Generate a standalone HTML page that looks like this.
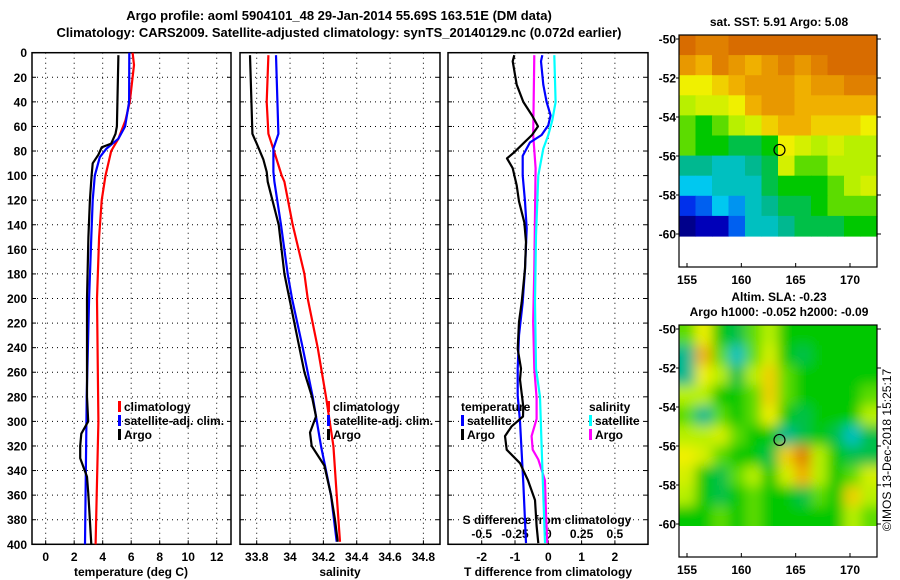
<!DOCTYPE html>
<html><head><meta charset="utf-8">
<style>
html,body{margin:0;padding:0;background:#fff;}
svg{display:block;font-family:"Liberation Sans",sans-serif;font-weight:bold;}
text{font-size:12px;fill:#000;}
</style></head>
<body>
<svg id="chart" width="900" height="580" viewBox="0 0 900 580" xmlns="http://www.w3.org/2000/svg">
<defs><filter id="blur" x="-0.2" y="-0.2" width="1.4" height="1.4"><feGaussianBlur stdDeviation="6"/></filter>
<clipPath id="clip2"><rect x="679" y="325" width="198" height="201"/></clipPath></defs>
<text x="339" y="20" text-anchor="middle" style="font-size:13px">Argo profile: aoml 5904101_48 29-Jan-2014 55.69S 163.51E (DM data)</text>
<text x="339" y="37" text-anchor="middle" style="font-size:13px">Climatology: CARS2009. Satellite-adjusted climatology: synTS_20140129.nc (0.072d earlier)</text>
<text x="779" y="26" text-anchor="middle">sat. SST: 5.91 Argo: 5.08</text>
<text x="779" y="301" text-anchor="middle">Altim. SLA: -0.23</text>
<text x="779" y="316" text-anchor="middle">Argo h1000: -0.052 h2000: -0.09</text>
<text transform="translate(891,450) rotate(-90)" text-anchor="middle" style="font-weight:normal">©IMOS 13-Dec-2018 15:25:17</text>
<g id="layer"></g>
</svg>
<script>
// ---- data ----
const depthTicks = [0,20,40,60,80,100,120,140,160,180,200,220,240,260,280,300,320,340,360,380,400];
const tempTicks = [0,2,4,6,8,10,12];
const salTicks = [33.8,34,34.2,34.4,34.6,34.8];
const salTickLabels = ["33.8","34","34.2","34.4","34.6","34.8"];
const tdiffTicks = [-2,-1,0,1,2];
const sdiffTicks = [-0.5,-0.25,0,0.25,0.5];
const sdiffTickLabels = ["-0.5","-0.25","0","0.25","0.5"];

const climTDepth = [0,10,40,55,70,80,100,120,150,200,300,360,400];
const climT = [6.1,6.2,5.9,5.6,5.1,4.6,4.2,3.93,3.75,3.6,3.7,3.58,3.5];
const satTDepth = [0,40,60,70,78,85,100,120,150,200,280,400];
const satT = [5.87,5.85,5.57,5.1,4.27,3.8,3.45,3.3,3.2,3.05,2.88,2.76];
const argoTDepth = [2,60,66,74,77,83,90,100,120,150,200,280,300,310,320,330,345,360,400];
const argoT = [5.1,5.0,4.9,4.6,3.93,3.7,3.3,3.22,3.1,3.0,2.9,2.9,2.98,2.5,2.42,2.42,2.9,3.0,3.2];

const climSDepth = [2,40,66,80,100,105,140,180,200,240,280,320,360,398];
const climS = [33.87,33.86,33.87,33.904,33.95,33.966,34.016,34.086,34.106,34.166,34.216,34.26,34.28,34.3];
const satSDepth = [2,66,78,97,105,140,180,200,240,280,320,360,398];
const satS = [33.916,33.93,33.9,33.9,33.906,33.946,33.986,34.012,34.076,34.136,34.186,34.246,34.28];
const argoSDepth = [2,66,74,87,97,105,140,180,200,240,260,280,296,309,320,336,360,380,398];
const argoS = [33.76,33.774,33.8,33.84,33.86,33.866,33.932,33.966,33.996,34.056,34.086,34.132,34.156,34.12,34.13,34.206,34.246,34.27,34.286];

const argoTdDepth = [2,7,26,40,51,60,67,73,81,86,94,108,121,138,154,176,203,219,241,257,266,288,296,304,312,323,334,348,364,385,399];
const argoTd = [-1.02,-1.07,-0.95,-0.75,-0.49,-0.31,-0.49,-0.72,-1.02,-1.24,-1.07,-0.95,-0.88,-0.72,-0.67,-0.7,-0.8,-0.88,-0.92,-0.82,-0.85,-0.75,-0.76,-1.1,-1.3,-1.25,-0.85,-0.61,-0.4,-0.35,-0.3];
const satTdDepth = [2,7,26,40,51,59,67,73,84,100,121,143,176,203,230,257,279,300,350,399];
const satTd = [-0.18,-0.22,-0.15,-0.05,0.07,0.0,-0.2,-0.55,-0.77,-0.77,-0.7,-0.65,-0.7,-0.77,-0.88,-0.92,-0.92,-0.85,-0.75,-0.67];
const argoSdDepth = [2,67,94,176,219,257,281,298,312,323,331,348,375,399];
const argoSd = [-0.105,-0.113,-0.095,-0.105,-0.113,-0.105,-0.0875,-0.0875,-0.125,-0.117,-0.075,-0.025,-0.0175,-0.0075];
const satSdDepth = [2,40,55,67,78,100,149,203,257,280,320,360,399];
const satSd = [0.045,0.055,0.03,0,-0.0375,-0.075,-0.0925,-0.1,-0.0925,-0.0625,-0.05,-0.0375,-0.025];

// map grids (0..1 colour index), rows north->south
const sstGrid = [
[.95,.9,.9,.95,.95,.95,.95,.95,.95,.95,.95,.95],
[.85,.8,.9,.85,.8,.85,.9,.85,.9,.95,.95,.95],
[.7,.7,.75,.8,.85,.85,.85,.8,.85,.85,.9,.9],
[.6,.65,.65,.7,.8,.85,.85,.8,.8,.8,.8,.8],
[.55,.5,.55,.6,.65,.75,.8,.8,.75,.75,.75,.7],
[.55,.5,.5,.45,.45,.5,.7,.65,.6,.65,.6,.6],
[.4,.4,.35,.35,.4,.45,.65,.55,.55,.6,.6,.6],
[.3,.3,.35,.35,.35,.45,.5,.5,.5,.55,.6,.65],
[.15,.2,.3,.25,.35,.4,.45,.45,.5,.55,.55,.55],
[0,.05,.05,.2,.35,.35,.4,.45,.45,.45,.5,.5]];
const slaGrid = [
[.55,.7,.5,.45,.55,.6,.5,.5,.5,.5,.5,.5],
[.4,.8,.55,.35,.55,.65,.5,.45,.5,.5,.5,.5],
[.4,.7,.6,.45,.6,.75,.55,.5,.5,.5,.5,.5],
[.6,.6,.5,.5,.55,.75,.55,.5,.5,.5,.5,.55],
[.55,.4,.55,.5,.55,.7,.5,.45,.5,.5,.5,.6],
[.6,.6,.65,.55,.5,.5,.4,.45,.5,.45,.35,.45],
[.7,.65,.55,.5,.5,.45,.75,.9,.6,.5,.45,.45],
[.65,.5,.45,.55,.6,.5,.65,.8,.6,.5,.55,.65],
[.6,.5,.45,.5,.55,.5,.5,.45,.55,.5,.75,.6],
[.5,.5,.55,.5,.55,.5,.5,.5,.5,.5,.6,.55]];
const lonTicks = [155,160,165,170];
const latTicks = [-50,-52,-54,-56,-58,-60];
const argoLon = 163.51, argoLat = -55.69;

// ---- helpers ----
const NS = "http://www.w3.org/2000/svg";
const layer = document.getElementById('layer');
function mk(tag, attrs, parent){const e=document.createElementNS(NS,tag);for(const k in attrs)e.setAttribute(k,attrs[k]);(parent||layer).appendChild(e);return e;}
const Y0 = 52.7, Y1 = 544.3;
function yD(d){return Y0 + d*(Y1-Y0)/400;}
const panels = [
 {name:'temperature', x0:32, x1:231, v0:-0.96, v1:(231-45.7)/14.25},
 {name:'salinity', x0:240, x1:440, v0:33.8-(256.7-240)/166.7, v1:33.8+(440-256.7)/166.7},
 {name:'difference', x0:448, x1:648, v0:-(548.3-448)/33.3, v1:(648-548.3)/33.3}
];
function xf(p,v){return p.x0 + (v-p.v0)/(p.v1-p.v0)*(p.x1-p.x0);}

panels.forEach((p,pi)=>{
  const g = mk('g',{});
  
  
  depthTicks.forEach(d=>{
    const y=yD(d);
    if(d>0&&d<400){
      const gl = mk('line',{x1:p.x0,x2:p.x1,y1:y,y2:y,stroke:'#000','stroke-width':1,'stroke-dasharray':'1,4'},g);
      
      
    }
    mk('line',{x1:p.x0,x2:p.x0+4,y1:y,y2:y,stroke:'#000'},g);
    mk('line',{x1:p.x1-4,x2:p.x1,y1:y,y2:y,stroke:'#000'},g);
    if(pi===0){
      const t = mk('text',{x:27,y:y+4.5,'text-anchor':'end'},g);
      t.textContent = d;
      
      
    }
  });
  const frame = mk('rect',{x:p.x0,y:Y0,width:p.x1-p.x0,height:Y1-Y0,fill:'none',stroke:'#000','stroke-width':1.5},g);
  
  
});

function vgrid(p, vals, labels, ly){
  vals.forEach((v,i)=>{
    const x = xf(p,v);
    const gl = mk('line',{x1:x,x2:x,y1:Y0,y2:Y1,stroke:'#000','stroke-dasharray':'1,4'});
    
    
    mk('line',{x1:x,x2:x,y1:Y1-4,y2:Y1,stroke:'#000'});
    const t = mk('text',{x:x,y:ly,'text-anchor':'middle'});
    t.textContent = labels[i];
    
    
  });
}
vgrid(panels[0], tempTicks, tempTicks.map(String), 561);
vgrid(panels[1], salTicks, salTickLabels, 561);
vgrid(panels[2], sdiffTicks.map(v=>v*4), sdiffTickLabels, 538);
tdiffTicks.forEach(v=>{
  const t = mk('text',{x:xf(panels[2],v),y:561,'text-anchor':'middle'});
  t.textContent = String(v);
  
  
});

function axTitle(txt,x,y,name){
  const t = mk('text',{x:x,y:y,'text-anchor':'middle'});
  t.textContent = txt;
  
  
}
axTitle('temperature (deg C)',131,576,'temperature-axis-title');
axTitle('salinity',340,576,'salinity-axis-title');
axTitle('T difference from climatology',548,576,'t-diff-axis-title');
axTitle('S difference  from climatology',547,524,'s-diff-axis-title');

function line(p, depths, vals, color, scale, name){
  const pts = depths.map((d,i)=>xf(p,vals[i]*scale).toFixed(1)+','+yD(d).toFixed(1)).join(' ');
  const pl = mk('polyline',{points:pts,fill:'none',stroke:color,'stroke-width':2.2,'stroke-linejoin':'round'});
  
  
}
line(panels[0], climTDepth, climT, '#ff0000',1,'temperature-climatology-line');
line(panels[0], satTDepth, satT, '#0000ff',1,'temperature-satellite-line');
line(panels[0], argoTDepth, argoT, '#000',1,'temperature-argo-line');
line(panels[1], climSDepth, climS, '#ff0000',1,'salinity-climatology-line');
line(panels[1], satSDepth, satS, '#0000ff',1,'salinity-satellite-line');
line(panels[1], argoSDepth, argoS, '#000',1,'salinity-argo-line');
line(panels[2], argoSdDepth, argoSd, '#ff00ff',4,'s-diff-argo-line');
line(panels[2], satSdDepth, satSd, '#00ffff',4,'s-diff-satellite-line');
line(panels[2], satTdDepth, satTd, '#0000ff',1,'t-diff-satellite-line');
line(panels[2], argoTdDepth, argoTd, '#000',1,'t-diff-argo-line');

function legend(items, x, y){
  items.forEach((it,i)=>{
    const yy = y + i*14;
    if(it[1]){
      const m = mk('rect',{x:x,y:yy-10,width:3,height:11,fill:it[1]});
      
      
    }
    const t = mk('text',{x:x+(it[1]?6:0),y:yy});
    t.textContent = it[0];
    
    
  });
}
legend([['climatology','#ff0000'],['satellite-adj. clim.','#0000ff'],['Argo','#000']],118,411);
legend([['climatology','#ff0000'],['satellite-adj. clim.','#0000ff'],['Argo','#000']],327,411);
legend([['temperature',null],['satellite','#0000ff'],['Argo','#000']],461,411);
legend([['salinity',null],['satellite','#00ffff'],['Argo','#ff00ff']],589,411);

// ---- maps ----
const palStops = [[0,[0,0,139]],[0.1,[0,0,230]],[0.2,[0,96,240]],[0.3,[0,200,240]],[0.4,[0,184,144]],[0.5,[0,200,0]],[0.6,[184,240,0]],[0.7,[240,240,0]],[0.8,[240,176,0]],[0.9,[224,128,0]],[1,[208,88,0]]];
function col(v){
  v=Math.max(0,Math.min(1,v));
  for(let i=1;i<palStops.length;i++){
    if(v<=palStops[i][0]){
      const a=palStops[i-1],b=palStops[i],t=(v-a[0])/(b[0]-a[0]);
      const c=a[1].map((x,k)=>Math.round(x+(b[1][k]-x)*t));
      return 'rgb('+c.join(',')+')';
    }
  }
  return 'rgb(208,88,0)';
}
function drawMap(grid, top, lat0y, name, blur){
  const X0=679, X1=877, lon155=687, pxLon=(850-687)/15, pxLat=19.5;
  const dataBottom = top+201;
  const g = mk('g', blur?{'clip-path':'url(#clip2)'}:{});
  
  
  const inner = mk('g', blur?{filter:'url(#blur)'}:{}, g);
  const rows = grid.length, cols = grid[0].length;
  const cw=(X1-X0)/cols, ch=(dataBottom-top)/rows;
  const pad = blur?20:0;
  grid.forEach((r,ri)=>r.forEach((v,ci)=>{
    let x=X0+ci*cw, y=top+ri*ch, w=cw+0.6, h=ch+0.6;
    if(ci===0){x-=pad;w+=pad;}
    if(ci===cols-1){w+=pad;}
    if(ri===0){y-=pad;h+=pad;}
    if(ri===rows-1){h+=pad;}
    const c = mk('rect',{x:x,y:y,width:w,height:h,fill:col(v)},inner);
    
    
  }));
  const fr = mk('rect',{x:X0,y:top,width:X1-X0,height:232,fill:'none',stroke:'#000','stroke-width':1.2});
  
  
  lonTicks.forEach(l=>{
    const x = lon155+(l-155)*pxLon;
    mk('line',{x1:x,x2:x,y1:top+232,y2:top+228,stroke:'#000'});
    const t = mk('text',{x:x,y:top+249,'text-anchor':'middle'});
    t.textContent = l;
    
    
  });
  latTicks.forEach(l=>{
    const y = lat0y+(-50-l)*pxLat;
    mk('line',{x1:X1,x2:X1+4,y1:y,y2:y,stroke:'#000'});
    mk('line',{x1:X0-3,x2:X0,y1:y,y2:y,stroke:'#000'});
    const t = mk('text',{x:676,y:y+4.5,'text-anchor':'end'});
    t.textContent = l;
    
    
  });
  const cx = lon155+(argoLon-155)*pxLon, cy = lat0y+(-50-argoLat)*pxLat;
  const m = mk('circle',{cx:cx,cy:cy,r:5.5,fill:'none',stroke:'#000','stroke-width':1.2});
  
  
}
drawMap(sstGrid, 35, 39, 'sst-map', false);
drawMap(slaGrid, 325, 329, 'sla-map', true);
</script>
</body></html>
